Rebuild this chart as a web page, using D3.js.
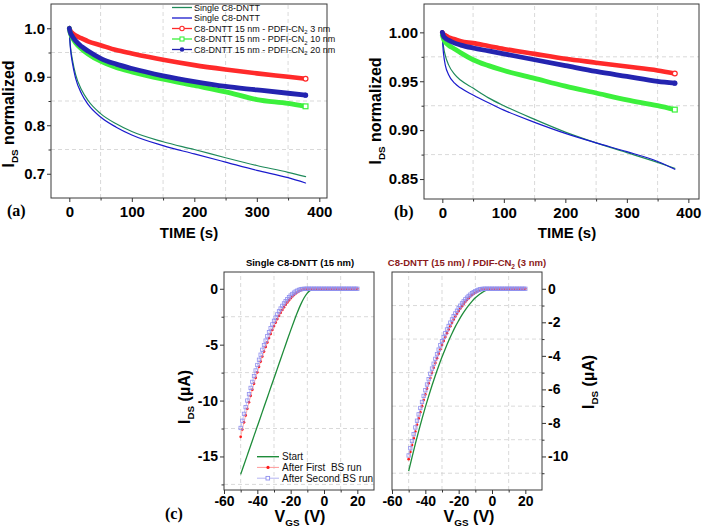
<!DOCTYPE html>
<html><head><meta charset="utf-8">
<script src="https://cdn.jsdelivr.net/npm/d3@7"></script>
<style>body{margin:0;background:#fff}svg{display:block}</style>
</head><body><svg id="chart" width="702" height="530"></svg>
<script>
// ---------- DATA ----------
const timeS = [0,1,2,5,10,20,30,50,75,100,150,200,250,300,350,378];
// panel (a)
const aSingleTeal = [1.000,0.975,0.960,0.935,0.905,0.872,0.851,0.824,0.803,0.787,0.766,0.750,0.733,0.717,0.703,0.694];
const aSingleBlue = [1.000,0.972,0.956,0.928,0.897,0.864,0.843,0.817,0.796,0.780,0.758,0.741,0.724,0.707,0.692,0.681];
const aPdif3  = [1.000,0.997,0.994,0.990,0.985,0.979,0.973,0.965,0.955,0.948,0.935,0.924,0.915,0.907,0.900,0.896];
const aPdif10 = [1.000,0.993,0.988,0.980,0.970,0.957,0.947,0.932,0.919,0.910,0.895,0.882,0.869,0.853,0.845,0.839];
const aPdif20 = [1.000,0.994,0.990,0.983,0.974,0.962,0.953,0.938,0.926,0.917,0.902,0.890,0.880,0.873,0.866,0.862];
// panel (b)
const bSingleTeal = [0.998,0.990,0.985,0.976,0.967,0.957,0.951,0.943,0.933,0.925,0.911,0.898,0.887,0.877,0.867,0.861];
const bSingleBlue = [0.998,0.985,0.978,0.966,0.957,0.948,0.943,0.936,0.928,0.9205,0.908,0.8967,0.887,0.878,0.868,0.860];
const bPdif3  = [1.000,0.999,0.998,0.997,0.995,0.993,0.991,0.989,0.986,0.983,0.978,0.973,0.969,0.965,0.961,0.958];
const bPdif10 = [0.997,0.995,0.993,0.990,0.987,0.983,0.979,0.972,0.966,0.961,0.953,0.945,0.938,0.931,0.925,0.921];
const bPdif20 = [1.000,0.998,0.996,0.994,0.992,0.989,0.987,0.984,0.981,0.978,0.972,0.966,0.960,0.955,0.950,0.948];
// panel (c)
const vgsCoarse = [-50,-48,-46,-44,-42,-40,-38,-36,-34,-32,-30,-28,-26,-24,-22,-20,-18,-16,-14,-12,-10,-8,-6,-4,-2,0,2,4,6,8,10,12,14,16,18,20];
const vgsFine = [-50,-49,-48,-47,-46,-45,-44,-43,-42,-41,-40,-39,-38,-37,-36,-35,-34,-33,-32,-31,-30,-29,-28,-27,-26,-25,-24,-23,-22,-21,-20,-19,-18,-17,-16,-15,-14,-13,-12,-11,-10,-9,-8,-7,-6,-5,-4,-3,-2,-1,0,1,2,3,4,5,6,7,8,9,10,11,12,13,14,15,16,17,18,19,20];
const cLeftStart = [-16.6,-15.74,-14.88,-14.02,-13.16,-12.30,-11.44,-10.58,-9.72,-8.86,-8.00,-7.14,-6.28,-5.42,-4.56,-3.72,-2.90,-2.12,-1.42,-0.83,-0.39,-0.12,-0.01,0,0,0,0,0,0,0,0,0,0,0,0,0];
const cLeftFirst = [-13.24,-12.59,-11.95,-11.33,-10.73,-10.15,-9.58,-9.03,-8.49,-7.97,-7.47,-6.98,-6.51,-6.06,-5.62,-5.20,-4.80,-4.41,-4.04,-3.68,-3.34,-3.02,-2.71,-2.42,-2.15,-1.89,-1.65,-1.43,-1.22,-1.03,-0.85,-0.69,-0.55,-0.42,-0.31,-0.22,-0.14,-0.08,-0.04,-0.01,
  0,0,0,0,0,0,0,0,0,0,0,0,0,0,0,0,0,0,0,0,0,0,0,0,0,0,0,0,0,0,0];
const cLeftSecond = [-12.45,-11.81,-11.19,-10.59,-10.00,-9.43,-8.87,-8.33,-7.81,-7.31,-6.82,-6.35,-5.90,-5.46,-5.04,-4.64,-4.25,-3.88,-3.53,-3.19,-2.87,-2.57,-2.29,-2.02,-1.77,-1.53,-1.31,-1.11,-0.93,-0.76,-0.61,-0.47,-0.35,-0.25,-0.17,-0.10,-0.05,-0.02,-0.01,
  0,0,0,0,0,0,0,0,0,0,0,0,0,0,0,0,0,0,0,0,0,0,0,0,0,0,0,0,0,0,0,0];
const cRightStart = [-10.87,-10.05,-9.25,-8.49,-7.76,-7.06,-6.40,-5.77,-5.17,-4.60,-4.07,-3.57,-3.10,-2.67,-2.26,-1.90,-1.56,-1.26,-0.99,-0.75,-0.54,-0.37,-0.23,-0.12,-0.05,-0.01,0,0,0,0,0,0,0,0,0,0];
const cRightFirst = [-10.16,-9.73,-9.32,-8.91,-8.51,-8.11,-7.73,-7.36,-7.00,-6.64,-6.30,-5.96,-5.64,-5.32,-5.01,-4.71,-4.42,-4.14,-3.87,-3.61,-3.35,-3.11,-2.88,-2.65,-2.43,-2.23,-2.03,-1.84,-1.66,-1.49,-1.33,-1.18,-1.04,-0.90,-0.78,-0.66,-0.56,-0.46,-0.37,-0.29,-0.23,-0.17,-0.12,-0.07,-0.04,-0.02,0,
  0,0,0,0,0,0,0,0,0,0,0,0,0,0,0,0,0,0,0,0,0,0,0,0];
const cRightSecond = [-9.94,-9.51,-9.08,-8.67,-8.27,-7.87,-7.49,-7.11,-6.75,-6.39,-6.05,-5.71,-5.39,-5.07,-4.76,-4.47,-4.18,-3.90,-3.63,-3.37,-3.12,-2.88,-2.65,-2.43,-2.22,-2.02,-1.83,-1.64,-1.47,-1.31,-1.15,-1.01,-0.87,-0.75,-0.63,-0.53,-0.43,-0.35,-0.27,-0.20,-0.15,-0.10,-0.06,-0.03,-0.01,
  0,0,0,0,0,0,0,0,0,0,0,0,0,0,0,0,0,0,0,0,0,0,0,0,0,0];
// ticks
const timeTicks = [0,100,200,300,400];
const timeMinor = [50,150,250,350];
const yTicksA = [0.7,0.8,0.9,1.0];
const yMinorA = [0.75,0.85,0.95];
const yTicksB = [0.85,0.90,0.95,1.00];
const yMinorB = [0.875,0.925,0.975];
const vTicks = [-60,-40,-20,0,20];
const vMinor = [-50,-30,-10,10];
const yTicksCL = [0,-5,-10,-15];
const yMinorCL = [-2.5,-7.5,-12.5,-17.5];
const yTicksCR = [0,-2,-4,-6,-8,-10];
const yMinorCR = [-1,-3,-5,-7,-9,-11];
const legendA = ["Single C8-DNTT","Single C8-DNTT","C8-DNTT 15 nm - PDFI-CN","C8-DNTT 15 nm - PDFI-CN","C8-DNTT 15 nm - PDFI-CN"];
const legendASuffix = ["","","3 nm","10 nm","20 nm"];
const legendC = ["Start","After First\u00a0\u00a0BS run","After Second BS run"];

// ---------- STYLE ----------
const SANS = '"Liberation Sans", Arial, sans-serif';
const SERIF = '"Liberation Serif", "Times New Roman", serif';
const C_TEAL = "#1f8a5a", C_BLUE = "#1a1acd", C_RED = "#ff2a2a", C_LIME = "#3cf03c", C_NAVY = "#2424b0";
const C_START = "#1e8c3a", C_FIRST = "#ff1a1a", C_FIRST_L = "#ff9a9a", C_SEC = "#8f8fee", C_SEC_L = "#b4b4f2";

const svg = d3.select("#chart");

function styleAxis(s, fs) {
  s.select(".domain").remove();
  s.selectAll("line").attr("stroke", "#333").attr("stroke-width", 1);
  s.selectAll("text").attr("font-family", SANS).attr("font-size", fs).attr("font-weight", "bold").attr("fill", "#000");
}

function frame(o) {
  const g = svg.append("g");
  const [xl, xr] = o.x.range();
  const [yb, yt] = o.y.range();
  g.append("g").selectAll("line").data(o.gridX).join("line")
    .attr("x1", d => o.x(d)).attr("x2", d => o.x(d)).attr("y1", yb).attr("y2", yt)
    .attr("stroke", "#cfcfcf").attr("stroke-width", 0.8).attr("stroke-dasharray", "4,3");
  g.append("g").selectAll("line").data(o.gridY).join("line")
    .attr("y1", d => o.y(d)).attr("y2", d => o.y(d)).attr("x1", xl).attr("x2", xr)
    .attr("stroke", "#cfcfcf").attr("stroke-width", 0.8).attr("stroke-dasharray", "4,3");
  g.append("g").attr("transform", `translate(0,${yb})`)
    .call(d3.axisBottom(o.x).tickValues(o.gridX).tickSize(2.5).tickFormat(""))
    .call(s => styleAxis(s, o.fs));
  g.append("g").attr("transform", `translate(0,${yb})`)
    .call(d3.axisBottom(o.x).tickValues(o.xTicks).tickSize(4).tickPadding(o.xPad).tickFormat(o.xFmt))
    .call(s => styleAxis(s, o.fs));
  const yAx = o.yRight ? d3.axisRight : d3.axisLeft;
  const yPos = o.yRight ? xr : xl;
  g.append("g").attr("transform", `translate(${yPos},0)`)
    .call(yAx(o.y).tickValues(o.gridY).tickSize(2.5).tickFormat(""))
    .call(s => styleAxis(s, o.fs));
  g.append("g").attr("transform", `translate(${yPos},0)`)
    .call(yAx(o.y).tickValues(o.yTicks).tickSize(4).tickPadding(o.yPad).tickFormat(o.yFmt))
    .call(s => styleAxis(s, o.fs));
  g.append("rect").attr("x", xl).attr("y", yt).attr("width", xr - xl).attr("height", yb - yt)
    .attr("fill", "none").attr("stroke", "#3a3a3a").attr("stroke-width", 1);
  return g;
}

function timeLine(g, x, y, vals, color, w) {
  const data = timeS.map((t, i) => [t, vals[i]]);
  g.append("path").datum(data)
    .attr("d", d3.line().x(d => x(d[0])).y(d => y(d[1])).curve(d3.curveMonotoneX))
    .attr("fill", "none").attr("stroke", color).attr("stroke-width", w).attr("stroke-linecap", "round");
  return data[data.length - 1];
}
function endMarker(g, x, y, p, type, color) {
  if (type === "opencircle") g.append("circle").attr("cx", x(p[0])).attr("cy", y(p[1])).attr("r", 2.4).attr("fill", "#fff").attr("stroke", color).attr("stroke-width", 1.2);
  if (type === "opensquare") g.append("rect").attr("x", x(p[0]) - 2.4).attr("y", y(p[1]) - 2.4).attr("width", 4.8).attr("height", 4.8).attr("fill", "#fff").attr("stroke", color).attr("stroke-width", 1.2);
  if (type === "dot") g.append("circle").attr("cx", x(p[0])).attr("cy", y(p[1])).attr("r", 2.6).attr("fill", color);
}

function timePanel(x, y, tickFmt, sets) {
  const g = frame({x, y, gridX: timeMinor, gridY: sets.minor, xTicks: timeTicks, yTicks: sets.ticks,
    xFmt: d => String(d), yFmt: tickFmt, xPad: 4, yPad: 2, fs: 15});
  timeLine(g, x, y, sets.teal, C_TEAL, 1.2);
  timeLine(g, x, y, sets.blue, C_BLUE, 1.2);
  const pR = timeLine(g, x, y, sets.p3, C_RED, 4.6);
  const pG = timeLine(g, x, y, sets.p10, C_LIME, 4.8);
  const pB = timeLine(g, x, y, sets.p20, C_NAVY, 4.8);
  endMarker(g, x, y, pR, "opencircle", C_RED);
  endMarker(g, x, y, pG, "opensquare", C_LIME);
  endMarker(g, x, y, pB, "dot", C_NAVY);
  return g;
}

// ---------- PANEL (a) ----------
const xA = d3.scaleLinear().domain([-29.3, 412.3]).range([51, 327]);
const yA = d3.scaleLinear().domain([0.65, 1.05]).range([198, 4]);
timePanel(xA, yA, d3.format(".1f"), {minor: yMinorA, ticks: yTicksA, teal: aSingleTeal, blue: aSingleBlue, p3: aPdif3, p10: aPdif10, p20: aPdif20});

// legend (a)
const legG = svg.append("g");
const legColors = [C_TEAL, C_BLUE, C_RED, C_LIME, C_NAVY];
const legMarks = [null, null, "opencircle", "opensquare", "dot"];
legendA.forEach((t, i) => {
  const yy = 7.5 + i * 10.5;
  legG.append("line").attr("x1", 172).attr("x2", 192).attr("y1", yy).attr("y2", yy).attr("stroke", legColors[i]).attr("stroke-width", 1.3);
  if (legMarks[i] === "opencircle") legG.append("circle").attr("cx", 182).attr("cy", yy).attr("r", 2.2).attr("fill", "#fff").attr("stroke", C_RED).attr("stroke-width", 1.1);
  if (legMarks[i] === "opensquare") legG.append("rect").attr("x", 180).attr("y", yy - 2).attr("width", 4).attr("height", 4).attr("fill", "#fff").attr("stroke", C_LIME).attr("stroke-width", 1.1);
  if (legMarks[i] === "dot") legG.append("circle").attr("cx", 182).attr("cy", yy).attr("r", 2.3).attr("fill", C_NAVY);
  const tx = legG.append("text").attr("x", 194).attr("y", yy + 3.2).attr("font-family", SANS).attr("font-size", 9).attr("fill", "#111");
  tx.append("tspan").text(t);
  if (legendASuffix[i]) {
    tx.append("tspan").attr("font-size", 6).attr("dy", 2.5).text("2");
    tx.append("tspan").attr("dy", -2.5).text(" " + legendASuffix[i]);
  }
});

// ---------- PANEL (b) ----------
const xB = d3.scaleLinear().domain([-29.8, 417.3]).range([424, 699]);
const yB = d3.scaleLinear().domain([0.8296, 1.029]).range([199, 4]);
timePanel(xB, yB, d3.format(".2f"), {minor: yMinorB, ticks: yTicksB, teal: bSingleTeal, blue: bSingleBlue, p3: bPdif3, p10: bPdif10, p20: bPdif20});

// ---------- PANEL (c) ----------
function transferPanel(x, y, o) {
  const g = frame({x, y, gridX: vMinor, gridY: o.minor, xTicks: vTicks, yTicks: o.ticks,
    xFmt: d => String(d), yFmt: d => String(d), xPad: 2, yPad: 2, fs: 14, yRight: o.right});
  const coarse = vgsCoarse.map((v, i) => [v, o.start[i]]).filter(d => d[1] !== undefined);
  const first = vgsFine.map((v, i) => [v, o.first[i]]).filter(d => d[1] !== undefined);
  const second = vgsFine.map((v, i) => [v, o.second[i]]).filter(d => d[1] !== undefined);
  const line = d3.line().x(d => x(d[0])).y(d => y(d[1])).curve(d3.curveMonotoneX);
  g.append("path").datum(coarse).attr("d", line).attr("fill", "none").attr("stroke", C_START).attr("stroke-width", 1.3);
  g.append("path").datum(first).attr("d", line).attr("fill", "none").attr("stroke", C_FIRST_L).attr("stroke-width", 0.8);
  g.append("g").selectAll("circle").data(first).join("circle")
    .attr("cx", d => x(d[0])).attr("cy", d => y(d[1])).attr("r", 1.35).attr("fill", C_FIRST);
  g.append("path").datum(second).attr("d", line).attr("fill", "none").attr("stroke", C_SEC_L).attr("stroke-width", 0.8);
  g.append("g").selectAll("rect").data(second).join("rect")
    .attr("x", d => x(d[0]) - 1.7).attr("y", d => y(d[1]) - 1.7).attr("width", 3.4).attr("height", 3.4)
    .attr("fill", "none").attr("stroke", C_SEC).attr("stroke-width", 0.8);
  return g;
}
const xCL = d3.scaleLinear().domain([-60, 30]).range([224, 374]);
const yCL = d3.scaleLinear().domain([-18, 1.5]).range([490, 272]);
transferPanel(xCL, yCL, {minor: yMinorCL, ticks: yTicksCL, start: cLeftStart, first: cLeftFirst, second: cLeftSecond, right: false});
const xCR = d3.scaleLinear().domain([-60, 30]).range([392, 542]);
const yCR = d3.scaleLinear().domain([-12, 1]).range([490, 272]);
transferPanel(xCR, yCR, {minor: yMinorCR, ticks: yTicksCR, start: cRightStart, first: cRightFirst, second: cRightSecond, right: true});

// legend (c)
const legC = svg.append("g");
const lcY = [456.7, 467.4, 478.2];
legC.append("line").attr("x1", 257).attr("x2", 279).attr("y1", lcY[0]).attr("y2", lcY[0]).attr("stroke", C_START).attr("stroke-width", 1.4);
legC.append("line").attr("x1", 257).attr("x2", 279).attr("y1", lcY[1]).attr("y2", lcY[1]).attr("stroke", C_FIRST_L).attr("stroke-width", 1);
legC.append("circle").attr("cx", 268).attr("cy", lcY[1]).attr("r", 1.6).attr("fill", C_FIRST);
legC.append("line").attr("x1", 257).attr("x2", 279).attr("y1", lcY[2]).attr("y2", lcY[2]).attr("stroke", C_SEC_L).attr("stroke-width", 1);
legC.append("rect").attr("x", 266).attr("y", lcY[2] - 1.8).attr("width", 3.6).attr("height", 3.6).attr("fill", "#fff").attr("stroke", C_SEC).attr("stroke-width", 0.9);
legendC.forEach((t, i) => {
  legC.append("text").attr("x", 282).attr("y", lcY[i] + 3.6).attr("font-family", SANS).attr("font-size", 10).attr("fill", "#111").text(t);
});

// ---------- TEXT ----------
function txt(x, y, s, o = {}) {
  return svg.append("text").attr("x", x).attr("y", y).attr("font-family", o.ff || SANS).attr("font-size", o.fs || 15)
    .attr("font-weight", o.fw || "bold").attr("fill", o.fill || "#000").attr("text-anchor", o.anchor || "start").text(s);
}
txt(7, 216, "(a)", {ff: SERIF, fs: 16});
txt(394, 217, "(b)", {ff: SERIF, fs: 16});
txt(165, 519, "(c)", {ff: SERIF, fs: 16});
txt(189, 238, "TIME (s)", {anchor: "middle"});
txt(567, 238, "TIME (s)", {anchor: "middle"});

function subLabel(x, y, main, sub, rest, fs, rotate) {
  const t = svg.append("text").attr("font-family", SANS).attr("font-size", fs).attr("font-weight", "bold")
    .attr("fill", "#000").attr("text-anchor", "middle");
  if (rotate) t.attr("transform", `translate(${x},${y}) rotate(-90)`); else t.attr("x", x).attr("y", y);
  t.append("tspan").text(main);
  t.append("tspan").attr("font-size", fs * 0.62).attr("dy", fs * 0.28).text(sub);
  t.append("tspan").attr("dy", -fs * 0.28).text(rest);
}
subLabel(14, 114, "I", "DS", " normalized", 16, true);
subLabel(381, 111, "I", "DS", " normalized", 16, true);
subLabel(190, 397, "I", "DS", " (\u00b5A)", 16, true);
subLabel(594, 382, "I", "DS", " (\u00b5A)", 16, true);
subLabel(300, 522, "V", "GS", " (V)", 16, false);
subLabel(469, 522, "V", "GS", " (V)", 16, false);

txt(300, 266, "Single C8-DNTT (15 nm)", {fs: 9.5, anchor: "middle"});
const tr = svg.append("text").attr("x", 467).attr("y", 266).attr("font-family", SANS).attr("font-size", 9.5)
  .attr("font-weight", "bold").attr("fill", "#8b1a1a").attr("text-anchor", "middle");
tr.append("tspan").text("C8-DNTT (15 nm) / PDIF-CN");
tr.append("tspan").attr("font-size", 6.5).attr("dy", 2.5).text("2");
tr.append("tspan").attr("dy", -2.5).text(" (3 nm)");
</script></body></html>
